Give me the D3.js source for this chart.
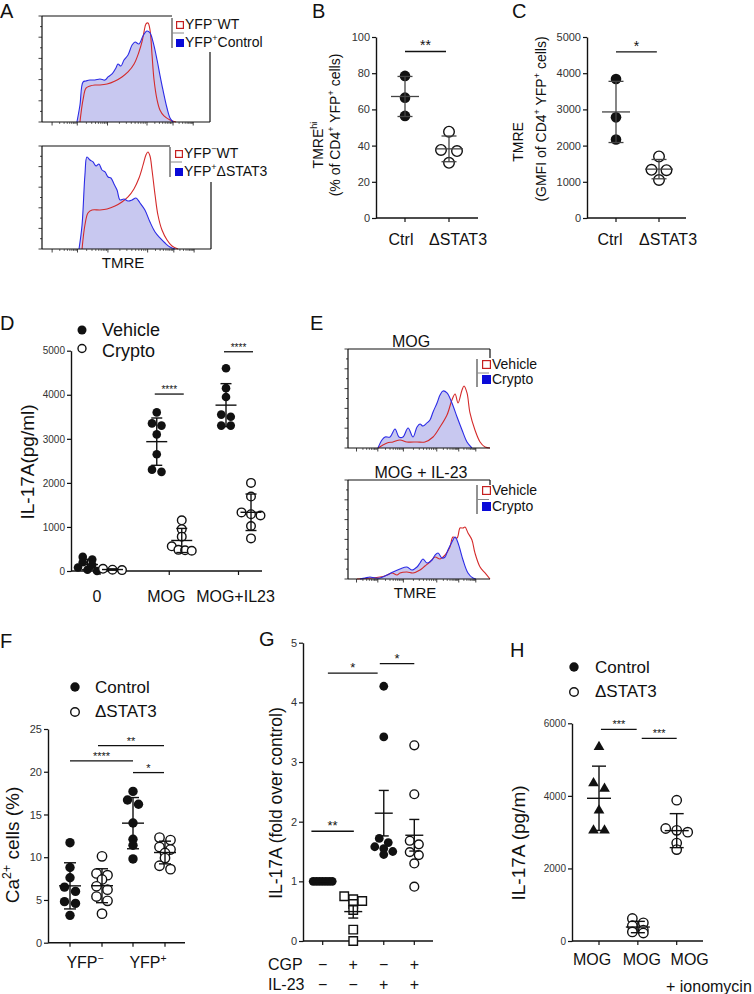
<!DOCTYPE html>
<html>
<head>
<meta charset="utf-8">
<script src="https://cdn.jsdelivr.net/npm/d3@7/dist/d3.min.js"></script>
<style>
html,body{margin:0;padding:0;background:#fff;}
svg{display:block;}
</style>
</head>
<body>
<svg id="fig" width="754" height="994" viewBox="0 0 754 994"></svg>
<script>
// ===================== DATA =====================
// Flow histograms: [TMRE channel on display scale 0-100, % of max]
const histMajorTicks = [6, 21, 39, 62.5, 78, 90];
const histYTicks = [0, 10, 20, 30, 40, 50, 60, 70, 80, 90, 100];

const a1Blue = [[20.8,0],[22.6,16],[24.4,37.7],[26.2,38.7],[28.6,39.6],[31.5,39.6],[34.5,40.6],[37.5,39.6],[39.3,42.5],[41.7,45.3],[44,51],[45.2,54.7],[47,52.8],[48.8,58.5],[51.2,63.2],[53.6,72.6],[55.4,75.5],[57.7,73.6],[60.1,81.1],[62.5,85.8],[64.3,84],[66.1,75.5],[68.5,58.5],[70.2,44.3],[72,30.2],[74.4,13.2],[76.2,3.8],[78,0]];
const a1Red = [[22.6,0],[24.4,20.8],[26.2,32],[28.6,34],[31.5,34.9],[34.5,34.9],[38.7,35.8],[43.5,38.7],[47.6,42.5],[51.2,47.2],[54.8,54.7],[57.7,66],[59.5,75.5],[60.7,84.9],[61.9,92.5],[63.1,93.4],[64.3,86.8],[65.5,63.2],[66.7,39.6],[68.5,20.8],[70.2,11.3],[72.6,5.7],[76.2,1.9],[79.8,0]];
const a2Blue = [[21.9,0],[23.7,23.3],[25.4,71.8],[26.6,89.3],[28.4,86.4],[30.2,84.5],[32,80.6],[33.7,82.5],[35.5,76.7],[37.3,74.8],[39.1,69.9],[40.8,68.9],[42.6,63.1],[44.4,57.3],[46.2,47.6],[48.5,48.5],[50.9,46.6],[53.3,47.6],[55.6,49.5],[58,44.7],[60.9,37.9],[63.9,26.2],[66.9,16.5],[69.8,10.7],[72.8,5.8],[75.7,1.9],[78.7,0]];
const a2Red = [[23.7,0],[25.4,23.3],[27.2,35],[29.6,37.9],[34.3,37.9],[38.5,38.8],[43.2,41.7],[47.3,45.6],[50.9,50.5],[54.4,58.3],[57.4,68.9],[59.8,81.6],[61.5,91.3],[62.7,94.2],[63.9,90.3],[65.1,76.7],[66.9,52.4],[68.6,33],[71,18.4],[74,8.7],[76.9,2.9],[80.5,0]];
const e1Blue = [[21.1,0],[23.9,8.1],[26.1,11.1],[29.6,11.1],[33.1,19.2],[35.9,11.1],[38.7,11.1],[42.3,20.2],[45.8,11.1],[48.6,21.2],[50.7,24.2],[52.8,22.2],[55.6,25.3],[57.7,28.3],[59.9,36.4],[62.7,45.5],[64.8,53.5],[66.9,57.6],[69.7,55.6],[73.2,45.5],[76.8,31.3],[80.3,18.2],[83.8,6.1],[87.3,0]];
const e1Red = [[21.1,0],[27.5,5.1],[31.7,6.1],[36.6,8.1],[41.5,6.1],[48.6,6.1],[54.2,6.1],[59.9,11.1],[64.8,21.2],[69.7,33.3],[73.2,48.5],[75.4,54.5],[77.5,45.5],[80.3,58.6],[81.7,62.6],[83.8,55.6],[85.9,35.4],[89.4,18.2],[93,6.1],[96.5,1],[100,0]];
const e2Blue = [[8.5,0],[12,1],[15.5,2],[19,1],[22.5,1],[27.5,4],[31.7,7.1],[36.6,10.1],[41.5,12.1],[45.1,9.1],[48.6,12.1],[50.7,16.2],[52.8,20.2],[55.6,16.2],[59.2,19.2],[61.3,24.2],[63.4,26.3],[66.2,21.2],[68.3,22.2],[70.4,29.3],[73.2,37.4],[75.4,42.4],[77.5,36.4],[81,19.2],[84.5,6.1],[88,1],[90.1,0]];
const e2Red = [[6.3,0],[22.5,2],[27.5,4],[31,6.1],[34.5,4],[36.6,6.1],[41.5,7.1],[45.8,6.1],[50.7,9.1],[54.2,13.1],[57.7,17.2],[61.3,22.2],[64.8,20.2],[68.3,24.2],[71.8,32.3],[73.9,42.4],[76.8,41.4],[78.9,51.5],[81,51.5],[82.4,52.5],[84.5,46.5],[87.3,39.4],[89.4,26.3],[93,12.1],[96.5,6.1],[100,0]];
const legendA1 = ["YFP{−}WT", "YFP{+}Control"];
const legendA2 = ["YFP{−}WT", "YFP{+}ΔSTAT3"];
const legendE = ["Vehicle", "Crypto"];
const eTitles = ["MOG", "MOG + IL-23"];

// Panel B
const bCategories = ["Ctrl", "ΔSTAT3"];
const bCtrl = [78.5, 66.5, 56.4];
const bStat3 = [47.7, 37.6, 37.0, 30.5];
const bTicks = [0, 20, 40, 60, 80, 100];
// Panel C
const cCategories = ["Ctrl", "ΔSTAT3"];
const cCtrl = [3840, 2780, 2170];
const cStat3 = [1700, 1330, 1320, 1050];
const cTicks = [0, 1000, 2000, 3000, 4000, 5000];
// Panel D
const dCategories = ["0", "MOG", "MOG+IL23"];
const dSeries = ["Vehicle", "Crypto"];
const dVehicle = [[320, 260, 200, 140, 80, 30, 0], [3600, 3350, 3300, 3100, 2650, 2300, 2250], [4600, 4150, 3950, 3550, 3500, 3300, 3300]];
const dCrypto = [[50, 30, 20], [1150, 950, 780, 560, 480, 470, 460], [2000, 1690, 1330, 1290, 1260, 1020, 740]];
const dTicks = [0, 1000, 2000, 3000, 4000, 5000];
// Panel F
const fCategories = ["YFP{−}", "YFP{+}"];
const fSeries = ["Control", "ΔSTAT3"];
const fControl = [[11.7, 8.8, 7.6, 6.5, 6.0, 4.8, 4.6, 3.2], [17.7, 16.7, 16.2, 14.0, 12.1, 11.4, 9.8]];
const fStat3 = [[10.1, 8.1, 7.9, 7.4, 6.6, 6.2, 5.4, 4.9, 3.4], [12.3, 12.0, 11.2, 10.9, 10.5, 9.9, 9.0, 8.6]];
const fTicks = [0, 5, 10, 15, 20, 25];
// Panel G
const gCGP = ["−", "+", "−", "+"];
const gIL23 = ["−", "−", "+", "+"];
const gValues = [[1, 1, 1, 1, 1, 1, 1], [0.75, 0.70, 0.67, 0.62, 0.52, 0.19, 0.0], [4.27, 3.42, 1.72, 1.65, 1.58, 1.55, 1.50, 1.45], [3.28, 2.46, 1.68, 1.62, 1.49, 1.44, 1.30, 0.91]];
const gTicks = [0, 1, 2, 3, 4, 5];
// Panel H
const hCategories = ["MOG", "MOG", "MOG"];
const hSeries = ["Control", "ΔSTAT3"];
const hValues = [[5350, 4350, 4200, 3600, 3050, 3050], [620, 500, 420, 300, 250, 220], [3880, 3100, 3050, 3000, 2700, 2520]];
const hTicks = [0, 2000, 4000, 6000];

// significance: [from (category position), to, value, label]
const bSig = [[0, 1, 92, "**"]];
const cSig = [[0, 0.95, 4590, "*"]];
const dSig = [[1, 1, 4016, "****"], [2, 2, 4976, "****"]];
const fSig = [[0, 1, 21.26, "****", 0, 0], [0, 1, 23.05, "**", 1, 1], [1, 1, 19.9, "*", 0, 1]];
const gSig = [[-0.37, 1.02, 1.84, "**"], [0.17, 1.8, 4.49, "*"], [1.87, 3.0, 4.65, "*"]];
const hSig = [[0.05, 0.97, 5835, "***"], [1.1, 2.0, 5587, "***"]];

// ===================== DRAWING =====================
const FONT = '"Liberation Sans", Arial, Helvetica, sans-serif';
const svg = d3.select("#fig").attr("font-family", FONT);
const INK = "#111";

function rich(sel, str, size) {
  sel.attr("font-size", size).attr("font-family", FONT).attr("fill", INK);
  const re = /\{([^}]*)\}/g; let last = 0, m; const parts = [];
  while ((m = re.exec(str))) {
    if (m.index > last) parts.push([str.slice(last, m.index), false]);
    parts.push([m[1], true]); last = re.lastIndex;
  }
  if (last < str.length) parts.push([str.slice(last), false]);
  const rise = size * 0.4; let raised = false;
  parts.forEach(([t, sup]) => {
    const ts = sel.append("tspan").text(t);
    if (sup) { ts.attr("font-size", size * 0.65); if (!raised) ts.attr("dy", -rise); raised = true; }
    else if (raised) { ts.attr("dy", rise); raised = false; }
  });
  return sel;
}
function txt(x, y, str, size, anchor) {
  return rich(svg.append("text").attr("x", x).attr("y", y).attr("text-anchor", anchor || "start"), str, size);
}
function vtxt(cx, cy, str, size) {
  return rich(svg.append("text").attr("x", 0).attr("y", 0).attr("text-anchor", "middle")
    .attr("transform", `translate(${cx + size * 0.36},${cy}) rotate(-90)`), str, size);
}
function panelLabel(t, x, y) { svg.append("text").attr("x", x).attr("y", y).attr("font-size", 20).attr("fill", INK).text(t); }

// ---------- flow histogram ----------
function hist(o) {
  const g = svg.append("g");
  const x = d3.scaleLinear().domain([0, 100]).range([o.x0, o.x1]);
  const y = d3.scaleLinear().domain([0, 100]).range([o.yB, o.yT]);
  const area = d3.area().x(d => x(d[0])).y0(y(0)).y1(d => y(d[1])).curve(d3.curveCatmullRom);
  const line = d3.line().x(d => x(d[0])).y(d => y(d[1])).curve(d3.curveCatmullRom);
  g.append("path").attr("d", area(o.blue)).attr("fill", "#c8c8f0");
  g.append("path").attr("d", line(o.red)).attr("fill", "none").attr("stroke", "#d42a2a").attr("stroke-width", 1.1);
  g.append("path").attr("d", line(o.blue)).attr("fill", "none").attr("stroke", "#2b2be6").attr("stroke-width", 1.1);
  const fr = { stroke: INK, "stroke-width": 1.2 };
  const L = (x1, y1, x2, y2, st) => { const l = g.append("line").attr("x1", x1).attr("y1", y1).attr("x2", x2).attr("y2", y2); Object.entries(st || fr).forEach(([k, v]) => l.attr(k, v)); };
  L(o.x0, o.yT, o.x0, o.yB); L(o.x0, o.yB, o.x1, o.yB);
  L(o.x0, o.yT, o.topEnd, o.yT);
  L(o.x1, o.rightFrom, o.x1, o.rightTo);
  histYTicks.forEach(v => L(o.x0, y(v), o.x0 - (v % 20 === 0 ? 3.5 : 2), y(v), { stroke: INK, "stroke-width": 0.8 }));
  for (let i = 0; i < histMajorTicks.length; i++) {
    const a = histMajorTicks[i];
    L(x(a), o.yB, x(a), o.yB + 3.5, { stroke: INK, "stroke-width": 0.8 });
    if (i < histMajorTicks.length - 1) {
      const b = histMajorTicks[i + 1];
      for (let k = 2; k <= 9; k++) { const t = a + (b - a) * Math.log10(k); L(x(t), o.yB, x(t), o.yB + 2, { stroke: INK, "stroke-width": 0.6 }); }
    }
  }
  const lg = o.legend;
  L(lg.bx, lg.by0, lg.bx, lg.by1, { stroke: "#777", "stroke-width": 1.6 });
  L(lg.bx, (lg.by0 + lg.by1) / 2, lg.bx + 12, (lg.by0 + lg.by1) / 2, { stroke: "#888", "stroke-width": 1 });
  g.append("rect").attr("x", lg.sx + 0.6).attr("y", lg.r1 + 0.6).attr("width", lg.s - 1.2).attr("height", lg.s - 1.2).attr("fill", "#fff").attr("stroke", "#c52020").attr("stroke-width", 1.2);
  g.append("rect").attr("x", lg.sx).attr("y", lg.r2).attr("width", lg.s).attr("height", lg.s).attr("fill", "#0a0ad8");
  txt(lg.sx + lg.s + 1, lg.r1 + lg.s, o.texts[0], lg.fs);
  txt(lg.sx + lg.s + 1, lg.r2 + lg.s, o.texts[1], lg.fs);
}

// ---------- scatter panel ----------
function rowLayout(values, y, spacing, maxRow, rowTol) {
  const idx = d3.range(values.length).sort((a, b) => values[b] - values[a]);
  const offs = new Array(values.length).fill(0);
  let row = [], startY = null;
  const flush = () => {
    const n = row.length; const s = n > 1 ? Math.min(spacing, maxRow / (n - 1)) : 0;
    row.forEach((i, k) => offs[i] = (k - (n - 1) / 2) * s); row = [];
  };
  idx.forEach(i => {
    const py = y(values[i]);
    if (row.length && Math.abs(py - startY) < rowTol) row.push(i);
    else { flush(); row = [i]; startY = py; }
  });
  flush();
  return offs;
}
function axes(y, x0, x1, ticks, fs, xticks) {
  const g = svg.append("g");
  const ax = g.append("g").attr("transform", `translate(${x0},0)`)
    .call(d3.axisLeft(y).tickValues(ticks).tickFormat(d3.format("d")).tickSize(4).tickSizeOuter(0).tickPadding(2));
  ax.select(".domain").attr("stroke", INK).attr("stroke-width", 1.4);
  ax.selectAll(".tick line").attr("stroke", INK).attr("stroke-width", 1.2);
  ax.selectAll(".tick text").attr("font-size", fs).attr("font-family", FONT).attr("fill", "#333");
  g.append("line").attr("x1", x0).attr("x2", x1).attr("y1", y(0)).attr("y2", y(0)).attr("stroke", INK).attr("stroke-width", 1.4);
  xticks.forEach(t => g.append("line").attr("x1", t).attr("x2", t).attr("y1", y(0)).attr("y2", y(0) + 4).attr("stroke", INK).attr("stroke-width", 1.2));
}
function points(cx, values, y, o) {
  const offs = rowLayout(values, y, o.spacing, o.maxRow, o.rowTol);
  const g = svg.append("g");
  values.forEach((v, i) => {
    const px = cx + offs[i], py = y(v);
    if (o.shape === "circle") {
      g.append("circle").attr("cx", px).attr("cy", py).attr("r", o.r)
        .attr("fill", o.filled ? INK : "#fff").attr("stroke", INK).attr("stroke-width", o.filled ? 0 : 1.4);
    } else {
      const sym = o.shape === "square" ? d3.symbolSquare : d3.symbolTriangle;
      g.append("path").attr("d", d3.symbol().type(sym).size(o.size)()).attr("transform", `translate(${px},${py})`)
        .attr("fill", o.filled ? INK : "#fff").attr("stroke", INK).attr("stroke-width", o.filled ? 0 : 1.4);
    }
  });
  const m = d3.mean(values);
  let e = d3.deviation(values) || 0;
  if (o.err === "sem") e = e / Math.sqrt(values.length);
  const c = o.barColor || INK, w = o.barWidth || 1.4;
  const L = (x1, y1, x2, y2) => g.append("line").attr("x1", x1).attr("y1", y1).attr("x2", x2).attr("y2", y2).attr("stroke", c).attr("stroke-width", w);
  L(cx, y(m + e), cx, y(m - e));
  L(cx - o.capW / 2, y(m + e), cx + o.capW / 2, y(m + e));
  L(cx - o.capW / 2, y(m - e), cx + o.capW / 2, y(m - e));
  L(cx - o.meanW / 2, y(m), cx + o.meanW / 2, y(m));
}
function sigBar(x1, x2, yy, label, fs) {
  svg.append("line").attr("x1", x1).attr("x2", x2).attr("y1", yy).attr("y2", yy).attr("stroke", INK).attr("stroke-width", 1.3);
  svg.append("text").attr("x", (x1 + x2) / 2).attr("y", yy - 1).attr("text-anchor", "middle").attr("font-size", fs).attr("fill", INK).text(label);
}

// ===== Panel A =====
panelLabel("A", 0, 18);
hist({ x0: 42, x1: 210, yT: 16, yB: 122, blue: a1Blue, red: a1Red, topEnd: 172, rightFrom: 52, rightTo: 122,
  texts: legendA1, legend: { bx: 172, by0: 18, by1: 48, sx: 176, s: 8, r1: 21, r2: 39, fs: 14 } });
hist({ x0: 42, x1: 211, yT: 146, yB: 249, blue: a2Blue, red: a2Red, topEnd: 170, rightFrom: 182, rightTo: 249,
  texts: legendA2, legend: { bx: 170, by0: 147, by1: 177, sx: 175, s: 8, r1: 150, r2: 168, fs: 14 } });
txt(123, 268, "TMRE", 15, "middle");

// ===== Panel B =====
panelLabel("B", 312, 18);
{
  const y = d3.scaleLinear().domain([0, 100]).range([218, 37]);
  const x = d3.scalePoint().domain(bCategories).range([405, 449]);
  axes(y, 376, 478, bTicks, 11, bCategories.map(x));
  const o = { r: 5.3, spacing: 16, maxRow: 18, rowTol: 6, meanW: 28, capW: 15, err: "sd", shape: "circle", barColor: "#444", barWidth: 1.3 };
  points(x("Ctrl"), bCtrl, y, { ...o, filled: true });
  points(x("ΔSTAT3"), bStat3, y, { ...o, filled: false });
  const shift = [-4, 9];
  bCategories.forEach((c, i) => txt(x(c) + shift[i], 245, c, 16, "middle"));
  const xc = d3.scaleLinear().domain([0, 1]).range([x(bCategories[0]), x(bCategories[1])]);
  bSig.forEach(s => sigBar(xc(s[0]), xc(s[1]) - 3, y(s[2]), s[3], 14));
  vtxt(318, 145, "TMRE{hi}", 14);
  vtxt(335, 125, "(% of CD4{+} YFP{+} cells)", 14);
}

// ===== Panel C =====
panelLabel("C", 512, 18);
{
  const y = d3.scaleLinear().domain([0, 5000]).range([218, 37]);
  const x = d3.scalePoint().domain(cCategories).range([616, 659]);
  axes(y, 587, 686, cTicks, 11, cCategories.map(x));
  const o = { r: 5.3, spacing: 15, maxRow: 30, rowTol: 6, meanW: 28, capW: 15, err: "sd", shape: "circle", barColor: "#444", barWidth: 1.3 };
  points(x("Ctrl"), cCtrl, y, { ...o, filled: true });
  points(x("ΔSTAT3"), cStat3, y, { ...o, filled: false });
  const shift = [-6, 9];
  cCategories.forEach((c, i) => txt(x(c) + shift[i], 245, c, 16, "middle"));
  const xc = d3.scaleLinear().domain([0, 1]).range([x(cCategories[0]), x(cCategories[1])]);
  cSig.forEach(s => sigBar(xc(s[0]), xc(s[1]), y(s[2]), s[3], 14));
  vtxt(518, 142, "TMRE", 14);
  vtxt(541, 119, "(GMFI of CD4{+} YFP{+} cells)", 14);
}

// ===== Panel D =====
panelLabel("D", 0, 330);
{
  const y = d3.scaleLinear().domain([0, 5000]).range([571, 350.7]);
  const x = d3.scalePoint().domain(dCategories).range([100, 238.5]);
  const off = 12.5;
  axes(y, 71, 262, dTicks, 10, dCategories.map(x));
  const o = { r: 4.3, spacing: 9.5, maxRow: 20, rowTol: 5, meanW: 21, capW: 11, err: "sd", shape: "circle" };
  dCategories.forEach((c, i) => {
    points(x(c) - off, dVehicle[i], y, { ...o, filled: true });
    points(x(c) + off, dCrypto[i], y, { ...o, filled: false });
    txt(x(c) - 3, 602, c, 16, "middle");
  });
  dSig.forEach(s => sigBar(x(dCategories[s[0]]) - off - 2, x(dCategories[s[1]]) + off + 2, y(s[2]), s[3], 10));
  svg.append("circle").attr("cx", 82).attr("cy", 330).attr("r", 4.5).attr("fill", INK);
  svg.append("circle").attr("cx", 82).attr("cy", 348.5).attr("r", 4).attr("fill", "#fff").attr("stroke", INK).attr("stroke-width", 1.4);
  txt(102, 336, dSeries[0], 18);
  txt(102, 357, dSeries[1], 18);
  vtxt(27, 462, "IL-17A(pg/ml)", 19);
}

// ===== Panel E =====
panelLabel("E", 310, 330);
hist({ x0: 348, x1: 490, yT: 349, yB: 448, blue: e1Blue, red: e1Red, topEnd: 490, rightFrom: 349, rightTo: 358,
  texts: legendE, legend: { bx: 477, by0: 359, by1: 387, sx: 482, s: 9, r1: 360, r2: 375, fs: 14 } });
hist({ x0: 348, x1: 490, yT: 480, yB: 579, blue: e2Blue, red: e2Red, topEnd: 490, rightFrom: 480, rightTo: 485,
  texts: legendE, legend: { bx: 477, by0: 485, by1: 514, sx: 482, s: 9, r1: 486, r2: 502, fs: 14 } });
txt(411, 347, eTitles[0], 16, "middle");
txt(421, 478, eTitles[1], 16, "middle");
txt(415, 598, "TMRE", 15, "middle");

// ===== Panel F =====
panelLabel("F", 0, 648);
{
  const y = d3.scaleLinear().domain([0, 25]).range([942.7, 729]);
  const x = d3.scalePoint().domain(fCategories).range([86, 149]);
  const off = 16;
  const sub = [];
  fCategories.forEach(c => { sub.push(x(c) - off, x(c) + off); });
  axes(y, 48, 185, fTicks, 11, sub);
  const o = { r: 4.7, spacing: 11, maxRow: 24, rowTol: 5, meanW: 22, capW: 12, err: "sd", shape: "circle" };
  fCategories.forEach((c, i) => {
    points(x(c) - off, fControl[i], y, { ...o, filled: true });
    points(x(c) + off, fStat3[i], y, { ...o, filled: false });
    txt(x(c) - 1, 968, c, 16, "middle");
  });
  fSig.forEach(s => {
    const x1 = x(fCategories[s[0]]) + (s[4] ? off - 4 : -off);
    const x2 = x(fCategories[s[1]]) + (s[5] ? off - 1 : -off);
    sigBar(x1, x2, y(s[2]), s[3], 11);
  });
  svg.append("circle").attr("cx", 75).attr("cy", 687).attr("r", 4.7).attr("fill", INK);
  svg.append("circle").attr("cx", 75).attr("cy", 712).attr("r", 4.3).attr("fill", "#fff").attr("stroke", INK).attr("stroke-width", 1.4);
  txt(95, 693, fSeries[0], 17);
  txt(95, 717, fSeries[1], 17);
  vtxt(12, 845, "Ca{2+} cells (%)", 19);
}

// ===== Panel G =====
panelLabel("G", 259, 646);
{
  const y = d3.scaleLinear().domain([0, 5]).range([941, 642.7]);
  const x = d3.scalePoint().domain(d3.range(gValues.length)).range([322.7, 414.3]);
  axes(y, 303, 433, gTicks, 11, d3.range(gValues.length).map(x));
  const o = { r: 4.4, spacing: 9, maxRow: 19, rowTol: 5, meanW: 18, capW: 10, err: "sem", shape: "circle" };
  points(x(0), gValues[0], y, { ...o, filled: true });
  points(x(1), gValues[1], y, { ...o, shape: "square", size: 72, filled: false });
  points(x(2), gValues[2], y, { ...o, filled: true });
  points(x(3), gValues[3], y, { ...o, filled: false });
  const xc = d3.scaleLinear().domain([0, 1]).range([x(0), x(1)]);
  gSig.forEach(s => sigBar(xc(s[0]), xc(s[1]), y(s[2]), s[3], 13));
  txt(268, 970, "CGP", 16);
  txt(268, 990, "IL-23", 16);
  gCGP.forEach((s, i) => txt(x(i), 970, s, 16, "middle"));
  gIL23.forEach((s, i) => txt(x(i), 990, s, 16, "middle"));
  vtxt(276, 803, "IL-17A (fold over control)", 17.5);
}

// ===== Panel H =====
panelLabel("H", 510, 657);
{
  const y = d3.scaleLinear().domain([0, 6000]).range([941, 723.3]);
  const x = d3.scalePoint().domain(d3.range(hValues.length)).range([599, 676.7]);
  axes(y, 572, 703, hTicks, 10, d3.range(hValues.length).map(x));
  const o = { r: 4.7, spacing: 11, maxRow: 24, rowTol: 6, meanW: 24, capW: 14, err: "sd", shape: "circle" };
  points(x(0), hValues[0], y, { ...o, shape: "triangle", size: 50, filled: true });
  points(x(1), hValues[1], y, { ...o, filled: false });
  points(x(2), hValues[2], y, { ...o, filled: false });
  const xc = d3.scaleLinear().domain([0, 1]).range([x(0), x(1)]);
  hSig.forEach(s => sigBar(xc(s[0]), xc(s[1]), y(s[2]), s[3], 11));
  const shift = [-7, 4, 13];
  hCategories.forEach((c, i) => txt(x(i) + shift[i], 965, c, 16, "middle"));
  txt(666, 992, "+ ionomycin", 16);
  svg.append("circle").attr("cx", 574).attr("cy", 667).attr("r", 4.7).attr("fill", INK);
  svg.append("circle").attr("cx", 574).attr("cy", 692).attr("r", 4.3).attr("fill", "#fff").attr("stroke", INK).attr("stroke-width", 1.4);
  txt(595, 673, hSeries[0], 17);
  txt(595, 697, hSeries[1], 17);
  vtxt(518, 843, "IL-17A (pg/m)", 19);
}
</script>
</body>
</html>
